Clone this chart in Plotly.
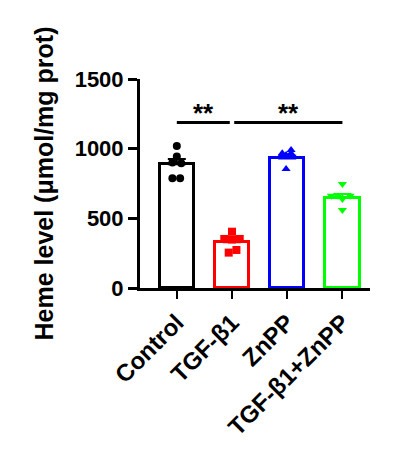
import plotly.graph_objects as go

# groups and read-off values (umol/mg prot)
GROUPS = ["Control", "TGF-β1", "ZnPP", "TGF-β1+ZnPP"]
COLOURS = ["#000000", "#FF0000", "#0000FF", "#00FF00"]
SYMBOLS = ["circle", "square", "triangle-up", "triangle-down"]

MEANS = [888, 328, 930, 648]
SEMS = [37, 23, 20, 26]

control_pts = [1019, 943, 900, 895, 787, 787]
tgf_pts = [404, 352, 348, 352, 254, 273]
znpp_pts = [991, 967, 967, 955, 940, 854]
tgf_znpp_pts = [746, 662, 662, 662, 639, 560]
POINTS = [control_pts, tgf_pts, znpp_pts, tgf_znpp_pts]

# horizontal spread of the dots
JITTER = [
    [0, 0, -0.08, 0.08, -0.08, 0.06],
    [0, -0.14, 0, 0.14, -0.06, 0.08],
    [0.07, 0.07, -0.09, -0.02, 0.02, -0.02],
    [0, -0.2, -0.08, 0.14, 0, 0],
]

# significance bars: (from, to, label)
SIG = [(0, 0.96, "**"), (1.04, 3, "**")]
SIG_Y = 1187

FONT = "Liberation Sans, Arial, sans-serif"

fig = go.Figure()

for i, g in enumerate(GROUPS):
    fig.add_trace(go.Bar(
        x=[i], y=[MEANS[i]], width=0.62,
        marker=dict(color="white", line=dict(color=COLOURS[i], width=3)),
        error_y=dict(type="data", symmetric=False, array=[SEMS[i]], arrayminus=[0],
                     color=COLOURS[i], thickness=2, width=9),
        showlegend=False,
    ))

for i, g in enumerate(GROUPS):
    fig.add_trace(go.Scatter(
        x=[i + j for j in JITTER[i]], y=POINTS[i], mode="markers",
        marker=dict(symbol=SYMBOLS[i], color=COLOURS[i], size=8),
        showlegend=False,
    ))

for x0, x1, label in SIG:
    fig.add_trace(go.Scatter(
        x=[x0, x1], y=[SIG_Y, SIG_Y], mode="lines",
        line=dict(color="black", width=3), showlegend=False,
    ))
    # asterisks sit high in the text box, so anchor the box a bit below the line
    fig.add_annotation(x=(x0 + x1) / 2, y=SIG_Y - 50, text="<b>" + label + "</b>",
                       showarrow=False, yanchor="bottom",
                       font=dict(family=FONT, size=26, color="black"))

# page body adds 8px offset, so margins are shifted by that much
fig.update_layout(
    width=407, height=459,
    margin=dict(l=132, r=45, t=71, b=179),
    plot_bgcolor="white", paper_bgcolor="white",
    font=dict(family=FONT, size=22, color="black"),
    bargap=0,
)
fig.update_xaxes(
    range=[-0.667, 3.5], tickvals=list(range(len(GROUPS))),
    ticktext=["<b>" + g + "</b>" for g in GROUPS], tickangle=-45,
    tickfont=dict(size=24),
    showline=True, linecolor="black", linewidth=3,
    ticks="outside", ticklen=8, tickwidth=2, tickcolor="black",
    showgrid=False, zeroline=False, automargin=False,
)
fig.update_yaxes(
    range=[0, 1500], tickvals=[0, 500, 1000, 1500],
    ticktext=["<b>0</b>", "<b>500</b>", "<b>1000</b>", "<b>1500</b>"],
    tickfont=dict(size=22),
    title=dict(text="<b>Heme level (μmol/mg prot)</b>", standoff=14,
               font=dict(size=25)),
    showline=True, linecolor="black", linewidth=3,
    ticks="outside", ticklen=9, tickwidth=3, tickcolor="black",
    showgrid=False, zeroline=False, automargin=False,
)

fig.write_html("out.html")
